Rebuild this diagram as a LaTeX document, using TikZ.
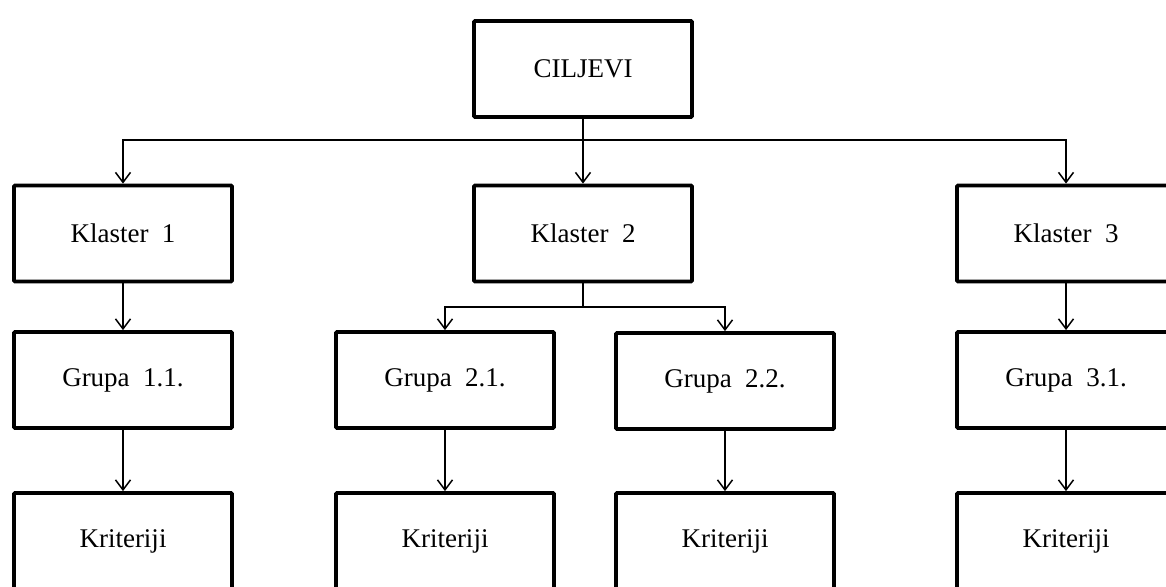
\documentclass[tikz,border=0pt]{standalone}
\usepackage{fontspec}
\setmainfont{Liberation Serif}
\usetikzlibrary{arrows.meta, positioning}

\begin{document}
\begin{tikzpicture}[x=1pt, y=-1pt,
    box/.style={draw, line width=3.8pt, rounded corners=1pt, minimum width=218pt,
      minimum height=96pt, inner sep=0pt, font=\fontsize{27}{32}\selectfont},
    arr/.style={-{Straight Barb[length=10pt, width=15pt]}, line width=1.5pt},
    bus/.style={line width=1.5pt}]

        \clip (0,0) rectangle (1166,586);

        % Ciljevi
        \node[box] (cilj) at (583,69) {CILJEVI};

        % Klasteri
        \node[box] (k1) at (123,233.5) {Klaster\ \ 1};
        \node[box] (k2) at (583,233.5) {Klaster\ \ 2};
        \node[box] (k3) at (1066,233.5) {Klaster\ \ 3};

        % Grupe
        \node[box] (g11) at (123,380) {Grupa\ \ 1.1.};
        \node[box] (g21) at (445,380) {Grupa\ \ 2.1.};
        \node[box] (g22) at (725,381) {Grupa\ \ 2.2.};
        \node[box] (g31) at (1066,380) {Grupa\ \ 3.1.};

        % Kriteriji
        \node[box] (kr11) at (123,541) {Kriteriji};
        \node[box] (kr21) at (445,541) {Kriteriji};
        \node[box] (kr22) at (725,541) {Kriteriji};
        \node[box] (kr31) at (1066,541) {Kriteriji};

        % Veze od ciljeva do klastera
        \coordinate (bus1) at (583,140);
        \draw[arr] (cilj.south) -- (k2.north);
        \draw[arr] (bus1) -| (k1.north);
        \draw[arr] (bus1) -| (k3.north);

        % Veze od klastera do grupa
        \coordinate (bus2) at (583,307);
        \draw[bus] (k2.south) -- (bus2);
        \draw[arr] (bus2) -| (g21.north);
        \draw[arr] (bus2) -| (g22.north);
        \draw[arr] (k1.south) -- (g11.north);
        \draw[arr] (k3.south) -- (g31.north);

        % Veze od grupa do kriterija
        \draw[arr] (g11.south) -- (kr11.north);
        \draw[arr] (g21.south) -- (kr21.north);
        \draw[arr] (g22.south) -- (kr22.north);
        \draw[arr] (g31.south) -- (kr31.north);

\end{tikzpicture}
\end{document}
